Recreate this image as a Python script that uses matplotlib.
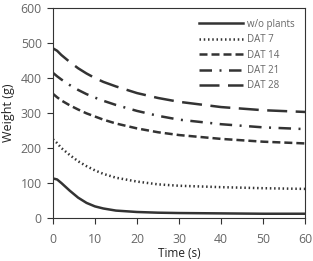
import matplotlib
matplotlib.use("Agg")
import matplotlib.pyplot as plt

# ─── DATA ──────────────────────────────────────────────────────────────────
time_s = [0, 1, 2, 4, 6, 8, 10, 12, 15, 20, 25, 30, 40, 50, 60]

wo_plants = [113, 110, 100, 78, 58, 43, 33, 27, 21, 17, 15, 14, 13, 12, 12]
dat_7 = [225, 214, 200, 180, 162, 148, 136, 126, 115, 104, 96, 92, 88, 85, 83]
dat_14 = [355, 345, 336, 322, 310, 299, 290, 281, 270, 256, 245, 237, 226, 218, 213]
dat_21 = [415, 405, 396, 380, 366, 354, 344, 335, 323, 306, 292, 281, 268, 259, 254]
dat_28 = [485, 478, 466, 446, 428, 413, 400, 389, 376, 357, 343, 332, 317, 308, 303]

labels = ["w/o plants", "DAT 7", "DAT 14", "DAT 21", "DAT 28"]

# ─── PLOT ──────────────────────────────────────────────────────────────────
plt.rcParams["font.family"] = ["Open Sans", "DejaVu Sans"]
ink = "#333333"
txt = "#666666"

fig = plt.figure(figsize=(3.13, 2.61), dpi=100)
ax = fig.add_axes([0.169, 0.165, 0.806, 0.804])

styles = [
    "-",
    (0, (0.6, 1.1)),
    (0, (3.2, 1.6)),
    (0, (5.0, 3.0, 0.8, 3.0)),
    (0, (8.0, 3.4)),
]
series = [wo_plants, dat_7, dat_14, dat_21, dat_28]
for vals, lab, ls in zip(series, labels, styles):
    ax.plot(time_s, vals, color=ink, linewidth=1.8, label=lab, linestyle=ls)

ax.set_xlim(0, 60)
ax.set_ylim(0, 600)
ax.set_xticks(range(0, 61, 10))
ax.set_yticks(range(0, 601, 100))
ax.tick_params(direction="out", length=4, width=0.8, colors=ink,
               labelsize=8.8, labelcolor=txt)
ax.tick_params(axis="x", pad=7)
ax.tick_params(axis="y", pad=4)
for sp in ax.spines.values():
    sp.set_color(ink)
    sp.set_linewidth(0.8)

ax.set_xlabel("Time (s)", fontsize=8.5, color="#222222", labelpad=0.5)
ax.set_ylabel("Weight (g)", fontsize=9, color="#222222", labelpad=4)

leg = ax.legend(loc="upper right", frameon=False, fontsize=7, handlelength=4.6,
                handletextpad=0.35, labelspacing=0.45, borderaxespad=0.7)
for t in leg.get_texts():
    t.set_color(txt)

fig.savefig("out.png", dpi=100)
